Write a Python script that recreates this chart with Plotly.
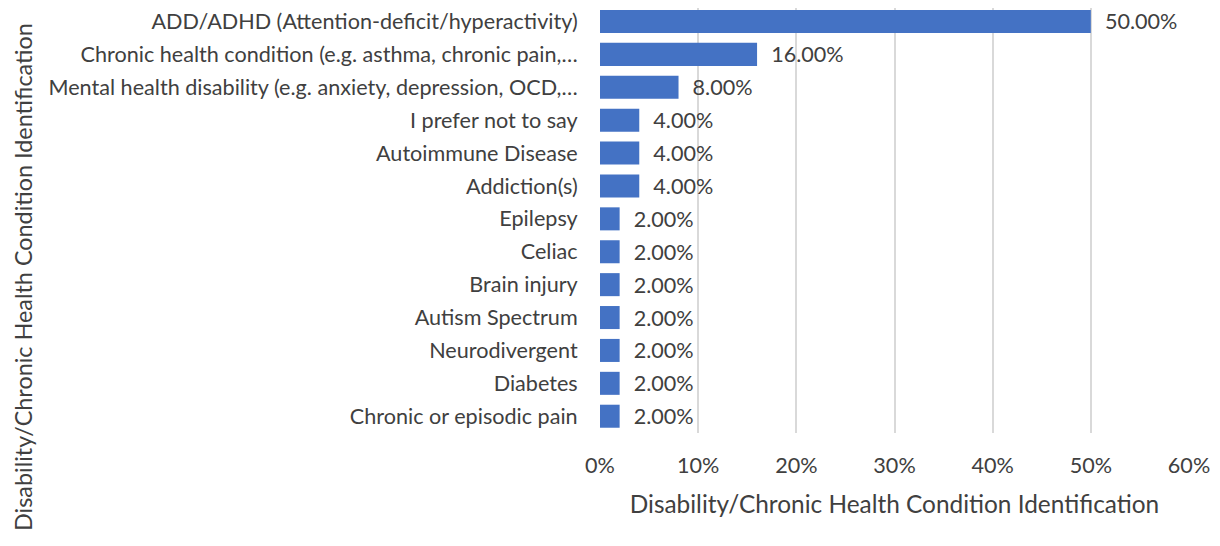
import plotly.graph_objects as go

categories = [
    "ADD/ADHD (Attention-deficit/hyperactivity)",
    "Chronic health condition (e.g. asthma, chronic pain,…",
    "Mental health disability (e.g. anxiety, depression, OCD,…",
    "I prefer not to say",
    "Autoimmune Disease",
    "Addiction(s)",
    "Epilepsy",
    "Celiac",
    "Brain injury",
    "Autism Spectrum",
    "Neurodivergent",
    "Diabetes",
    "Chronic or episodic pain",
]
values = [0.50, 0.16, 0.08, 0.04, 0.04, 0.04, 0.02, 0.02, 0.02, 0.02, 0.02, 0.02, 0.02]
x_ticks = [0, 0.1, 0.2, 0.3, 0.4, 0.5, 0.6]
axis_title = "Disability/Chronic Health Condition Identification"

FONT = "Lato"
FS = 21.6
TFS = 24.4
YTFS = 23.4
TXT = "#404040"

W, H = 1212, 538
L, R, T, B = 592, 31, 0, 113
PW, PH = W - L - R, H - T - B

fig = go.Figure(go.Bar(
    x=values, y=categories, orientation="h",
    marker=dict(color="#4472C4", line=dict(width=0)),
    width=0.7,
    text=["  " + f"{v*100:.2f}%" for v in values],
    textposition="outside", cliponaxis=False, constraintext="none",
    textfont=dict(family=FONT, size=FS, color=TXT),
))

fig.update_layout(
    width=W, height=H,
    margin=dict(l=L, r=R, t=T, b=B, autoexpand=False),
    paper_bgcolor="white", plot_bgcolor="white",
    font=dict(family=FONT, size=FS, color=TXT),
    showlegend=False,
    xaxis=dict(
        range=[0, 0.6], tickvals=x_ticks, tickformat=".0%",
        showgrid=True, gridcolor="#D9D9D9", gridwidth=1.5,
        zeroline=False, showline=False, automargin=False,
        ticks="outside", ticklen=13, tickcolor="rgba(0,0,0,0)",
        tickfont=dict(family=FONT, size=FS, color=TXT),
        title=dict(text=axis_title, standoff=19, font=dict(family=FONT, size=TFS, color=TXT)),
    ),
    yaxis=dict(
        range=[12.51, -0.41], showgrid=False, zeroline=False, showline=False,
        automargin=False,
        ticks="outside", ticklen=17, tickcolor="rgba(0,0,0,0)",
        tickfont=dict(family=FONT, size=FS, color=TXT),
    ),
    annotations=[dict(
        text=axis_title, textangle=-90, xref="paper", yref="paper",
        x=(15 - L) / PW, y=1 - 269 / PH, xanchor="center", yanchor="middle",
        showarrow=False, borderpad=0, font=dict(family=FONT, size=YTFS, color=TXT),
    )],
)

fig.write_html("out.html")
